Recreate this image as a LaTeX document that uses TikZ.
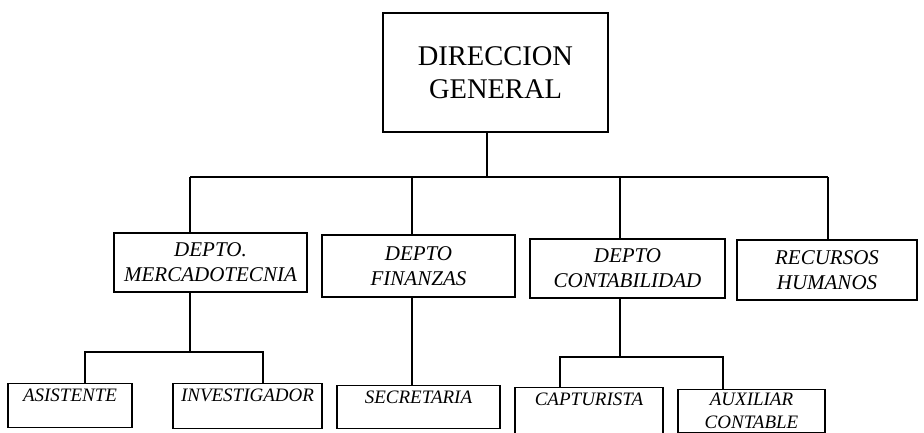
\documentclass[tikz,border=0pt]{standalone}
\usepackage{fontspec}
\setmainfont{Liberation Serif}
\usetikzlibrary{positioning}

\begin{document}
\begin{tikzpicture}[x=1pt,y=-1pt,line width=1.3pt,
  box/.style={draw, rectangle, align=center, inner xsep=2pt},
  jefe/.style={box, font=\fontsize{28.5}{33}\selectfont, minimum width=225pt, minimum height=119pt},
  depto/.style={box, font=\itshape\fontsize{21}{25}\selectfont, minimum width=193pt, minimum height=59pt},
  puesto/.style={box, font=\itshape\fontsize{19}{23}\selectfont, anchor=north, inner ysep=3.5pt}]
  \useasboundingbox (0,0) rectangle (924,432);
  % top
  \node[jefe] (dir) at (495.5,72.5) {DIRECCION\\GENERAL};
  % departments
  \node[depto] (merc) at (210.5,262.5) {DEPTO.\\MERCADOTECNIA};
  \node[depto, minimum height=62pt] (fin) at (418.5,266) {DEPTO\\FINANZAS};
  \node[depto, minimum width=195pt] (cont) at (627.5,268.5) {DEPTO\\CONTABILIDAD};
  \node[depto, minimum width=180pt, minimum height=60pt] (rh) at (827,270) {RECURSOS\\HUMANOS};
  % staff
  \node[puesto, minimum width=124pt, text height=14pt, text depth=23pt] (asis) at (70,383) {ASISTENTE};
  \node[puesto, minimum width=149pt, text height=14pt, text depth=24pt] (inv) at (247.5,383) {INVESTIGADOR};
  \node[puesto, minimum width=163pt, text height=14pt, text depth=22pt] (sec) at (418.5,385) {SECRETARIA};
  \node[puesto, minimum width=148pt, text height=14pt, text depth=32pt] (capt) at (589,387) {CAPTURISTA};
  \node[puesto, minimum width=147pt] (aux) at (751.5,389) {AUXILIAR\\CONTABLE};
  % main bus
  \coordinate (bd) at (487,177);
  \coordinate (b1) at (190,177);
  \coordinate (b2) at (412,177);
  \coordinate (b3) at (620,177);
  \coordinate (b4) at (828,177);
  \draw (bd |- dir.south) -- (bd);
  \draw (b1) -- (b4);
  \foreach \b/\n in {b1/merc, b2/fin, b3/cont, b4/rh}
    \draw (\b) -- (\b |- \n.north);
  % mercadotecnia
  \coordinate (m0) at (190,352);
  \coordinate (m1) at (85,352);
  \coordinate (m2) at (263,352);
  \draw (m0 |- merc.south) -- (m0);
  \draw (m1 |- asis.north) -- (m1) -- (m2) -- (m2 |- inv.north);
  % finanzas
  \draw (b2 |- fin.south) -- (b2 |- sec.north);
  % contabilidad
  \coordinate (c0) at (620,357);
  \coordinate (c1) at (560,357);
  \coordinate (c2) at (723,357);
  \draw (c0 |- cont.south) -- (c0);
  \draw (c1 |- capt.north) -- (c1) -- (c2) -- (c2 |- aux.north);
\end{tikzpicture}
\end{document}
